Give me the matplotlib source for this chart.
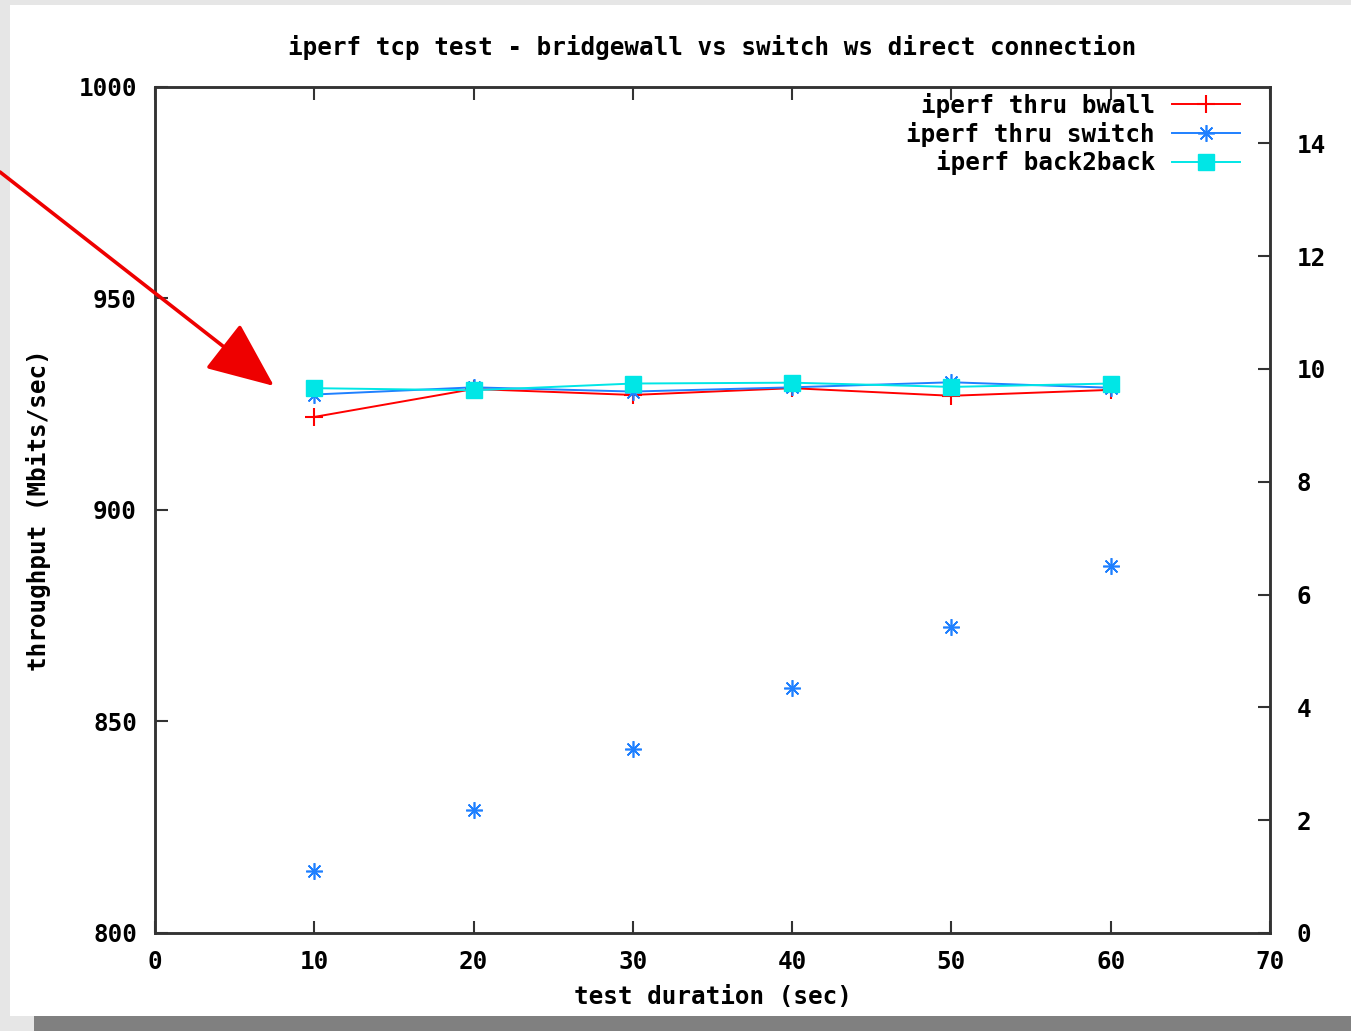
import matplotlib
matplotlib.use("Agg")
import matplotlib.pyplot as plt
from matplotlib.patches import Rectangle, FancyArrowPatch

# ---- data ----
durations = [10, 20, 30, 40, 50, 60]
bwall = [922.0, 928.6, 927.2, 928.8, 927.0, 928.4]
switch = [927.3, 929.0, 928.0, 929.0, 930.2, 928.9]
back2back = [928.8, 928.3, 929.9, 930.1, 929.1, 929.9]
switch_y2 = [1.10, 2.18, 3.26, 4.34, 5.43, 6.51]
labels = ["iperf thru bwall", "iperf thru switch", "iperf back2back"]
x_ticks = [0, 10, 20, 30, 40, 50, 60, 70]
y_ticks = [800, 850, 900, 950, 1000]
y2_ticks = [0, 2, 4, 6, 8, 10, 12, 14]

W, H = 1351, 1031
fig = plt.figure(figsize=(W / 100, H / 100), dpi=100)
fig.patch.set_facecolor("#e6e6e6")
# white page and grey bar
fig.add_artist(Rectangle((10 / W, (H - 1016) / H), (W - 10) / W, (1016 - 5) / H,
                         transform=fig.transFigure, facecolor="white", edgecolor="none", zorder=0))
fig.add_artist(Rectangle((34 / W, 0), (W - 34) / W, (H - 1016) / H,
                         transform=fig.transFigure, facecolor="#808080", edgecolor="none", zorder=0))

FS = 17.5
FONT = dict(family="DejaVu Sans Mono", weight="bold", size=FS)
plt.rcParams["font.family"] = "DejaVu Sans Mono"
plt.rcParams["font.weight"] = "bold"

left, right, top, bottom = 155, 1270, 87, 933
ax = fig.add_axes([left / W, (H - bottom) / H, (right - left) / W, (bottom - top) / H])
ax.set_facecolor("none")
ax.set_xlim(0, 70)
ax.set_ylim(800, 1000)

red = "#ff0000"
blue = "#1f80ff"
cyan = "#00e6e6"

ax.plot(durations, bwall, color=red, lw=1.4, marker="+", ms=13, mew=1.5, label=labels[0], zorder=3)
ax.plot(durations, switch, color=blue, lw=1.4, marker=(8, 2, 0), ms=12, mew=1.2, label=labels[1], zorder=4)
ax.plot(durations, back2back, color=cyan, lw=1.4, marker="s", ms=11, mec=cyan, label=labels[2], zorder=5)

ax2 = ax.twinx()
ax2.set_ylim(0, 15)
ax2.plot(durations, switch_y2, linestyle="none", color=blue, marker=(8, 2, 0), ms=12, mew=1.2)

for a in (ax, ax2):
    for s in a.spines.values():
        s.set_linewidth(1.8)
        s.set_color("#333333")

ax.set_xticks(x_ticks)
ax.set_yticks(y_ticks)
ax2.set_yticks(y2_ticks)
ax.tick_params(axis="x", direction="in", length=9, width=1.5, top=True, pad=12, labelsize=FS, colors="#333333", labelcolor="black")
ax.tick_params(axis="y", direction="in", length=9, width=1.5, right=False, pad=13, labelsize=FS, colors="#333333", labelcolor="black")
ax2.tick_params(axis="y", direction="in", length=9, width=1.5, pad=19, labelsize=FS, colors="#333333", labelcolor="black")

ax.set_title("iperf tcp test - bridgewall vs switch ws direct connection", fontdict=FONT, pad=23)
ax.set_xlabel("test duration (sec)", fontdict=FONT, labelpad=8)
ax.set_ylabel("throughput (Mbits/sec)", fontdict=FONT, labelpad=20)

ax.legend(loc="upper right", bbox_to_anchor=(1 - 30 / 1115, 1 - 6 / 846), frameon=False, markerfirst=False,
          prop=dict(family="DejaVu Sans Mono", weight="bold", size=FS),
          handlelength=2.8, labelspacing=0.15, borderaxespad=0.0, borderpad=0.0, handletextpad=0.7)

# red annotation arrow
arr = FancyArrowPatch(posA=(0, H - 172), posB=(274, H - 386), transform=None,
                      arrowstyle="-|>,head_length=2.1,head_width=0.9", color="#ee0000",
                      lw=2.6, mutation_scale=20, shrinkA=0, shrinkB=0, zorder=10)
fig.add_artist(arr)

fig.savefig("out.png", dpi=100, facecolor=fig.get_facecolor())
